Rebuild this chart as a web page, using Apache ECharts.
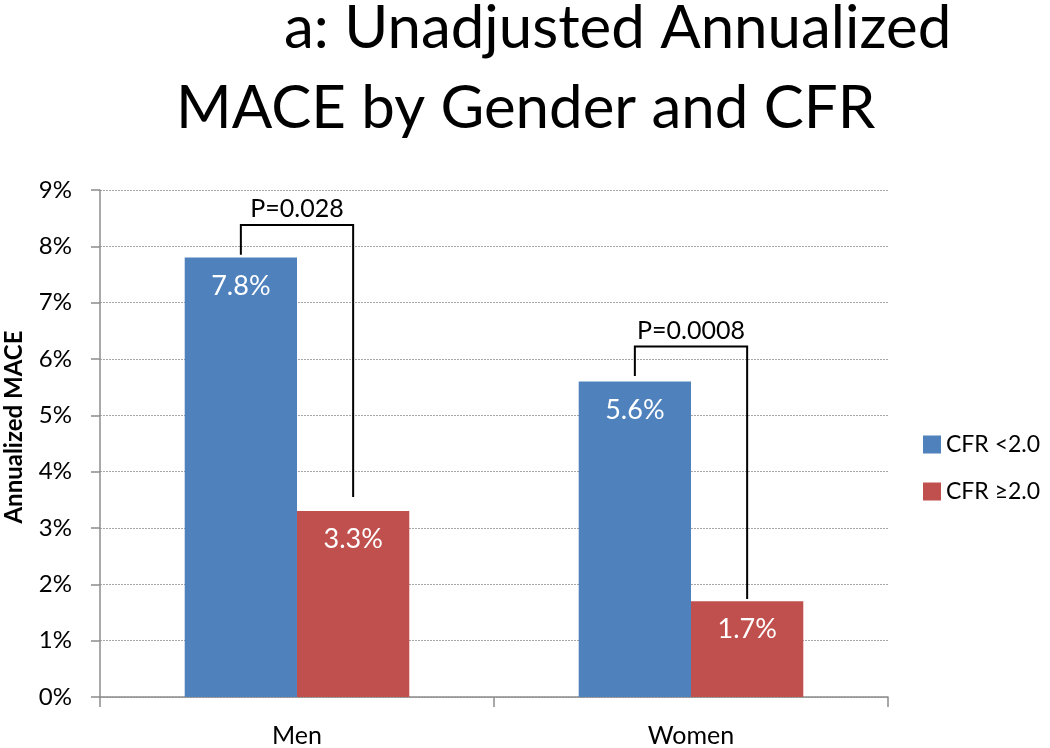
<!DOCTYPE html>
<html>
<head>
<meta charset="utf-8">
<script src="https://cdn.jsdelivr.net/npm/echarts@6/dist/echarts.min.js"></script>
<style>html,body{margin:0;padding:0;background:#fff}#c{width:1050px;height:748px}</style>
</head>
<body>
<div id="c"></div>
<script>
// ---- data ----
const categories = ['Men', 'Women'];
const seriesNames = ['CFR <2.0', 'CFR \u22652.0'];
const cfrLow = [7.8, 5.6];
const cfrHigh = [3.3, 1.7];
const yTicks = [0, 1, 2, 3, 4, 5, 6, 7, 8, 9];
// brackets: [category index, left leg bottom, bracket top, right leg bottom, label]
const brackets = [
  [0, 7.85, 8.38, 3.55, 'P=0.028'],
  [1, 5.7, 6.22, 1.74, 'P=0.0008']
];
const titleLines = ['a: Unadjusted Annualized', 'MACE by Gender and CFR'];

const FONT = 'Lato';
const BAR_GAP_CAT = 0.43;

const chart = echarts.init(document.getElementById('c'), null, {renderer: 'canvas'});
chart.setOption({
  backgroundColor: '#ffffff',
  animation: false,
  title: [
    {text: titleLines[0], left: 279, top: -6, textStyle: {fontFamily: FONT, fontSize: 60, fontWeight: 'normal', color: '#000'}},
    {text: titleLines[1], left: 171, top: 74, textStyle: {fontFamily: FONT, fontSize: 60, fontWeight: 'normal', color: '#000'}}
  ],
  legend: {
    orient: 'vertical',
    left: 918, top: 428,
    itemWidth: 18, itemHeight: 18, itemGap: 24,
    icon: 'rect',
    textStyle: {fontFamily: FONT, fontSize: 23, color: '#000', padding: [0, 0, 0, 0]},
    data: seriesNames
  },
  grid: {left: 100, right: 162, top: 190, bottom: 49, containLabel: false},
  xAxis: {
    type: 'category',
    data: categories,
    axisLine: {lineStyle: {color: '#8c8c8c', width: 1.5}},
    axisTick: {show: true, length: 10, lineStyle: {color: '#8c8c8c', width: 1.5}},
    axisLabel: {fontFamily: FONT, fontSize: 25, color: '#000', margin: 26}
  },
  yAxis: {
    type: 'value',
    min: yTicks[0], max: yTicks[yTicks.length - 1], interval: 1,
    axisLine: {show: true, lineStyle: {color: '#8c8c8c', width: 1.5}},
    axisTick: {show: true, length: 9, lineStyle: {color: '#8c8c8c', width: 1.5}},
    axisLabel: {fontFamily: FONT, fontSize: 24, color: '#000', margin: 28, formatter: '{value}%'},
    splitLine: {show: true, lineStyle: {color: '#a6a6a6', type: [2, 1], width: 1}}
  },
  graphic: [{
    type: 'text',
    x: 14, y: 427,
    rotation: Math.PI / 2,
    style: {text: 'Annualized MACE', fontFamily: FONT, fontSize: 24, fontWeight: 'bold', fill: '#000', align: 'center', verticalAlign: 'middle'}
  }],
  series: [
    {
      name: seriesNames[0], type: 'bar', data: cfrLow,
      barGap: '0%', barCategoryGap: (BAR_GAP_CAT * 100) + '%',
      itemStyle: {color: '#4f81bd'},
      label: {show: true, position: 'insideTop', distance: 15, formatter: '{c}%', fontFamily: FONT, fontSize: 27, color: '#fff'}
    },
    {
      name: seriesNames[1], type: 'bar', data: cfrHigh,
      itemStyle: {color: '#c0504d'},
      label: {show: true, position: 'insideTop', distance: 15, formatter: '{c}%', fontFamily: FONT, fontSize: 27, color: '#fff'}
    },
    {
      type: 'custom',
      silent: true,
      z: 5,
      data: brackets,
      renderItem: function (params, api) {
        const cat = api.value(0);
        const band = api.size([1, 0])[0];
        const barW = band * (1 - BAR_GAP_CAT) / 2;
        const cx = api.coord([cat, 0])[0];
        const lx = cx - barW / 2, rx = cx + barW / 2;
        const yl = api.coord([cat, api.value(1)])[1];
        const yt = api.coord([cat, api.value(2)])[1];
        const yr = api.coord([cat, api.value(3)])[1];
        return {
          type: 'group',
          children: [
            {type: 'polyline', shape: {points: [[lx, yl], [lx, yt], [rx, yt], [rx, yr]]},
             style: {stroke: '#000', lineWidth: 2, fill: null}},
            {type: 'text', x: cx, y: yt - 3,
             style: {text: brackets[params.dataIndex][4], fontFamily: FONT, fontSize: 25, fill: '#000', align: 'center', verticalAlign: 'bottom'}}
          ]
        };
      }
    }
  ]
});
</script>
</body>
</html>
